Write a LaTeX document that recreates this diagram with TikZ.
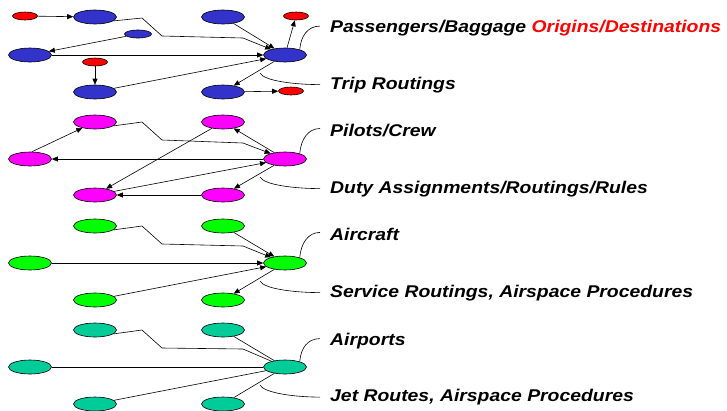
\documentclass[tikz,border=0pt]{standalone}
\usepackage{fontspec}
\setmainfont{Liberation Sans}
\newfontfamily\labfont{Liberation Sans}[FakeStretch=1.14]
\usetikzlibrary{arrows.meta,shapes.geometric}
\definecolor{cblue}{RGB}{51,51,204}
\definecolor{cred}{RGB}{255,0,0}
\definecolor{cmag}{RGB}{255,0,255}
\definecolor{cgreen}{RGB}{0,255,0}
\definecolor{cteal}{RGB}{0,204,153}
\begin{document}
\begin{tikzpicture}[x=1pt,y=-1pt,
  big/.style={ellipse,draw,line width=0.6pt,minimum width=43pt,minimum height=14pt,inner sep=0pt},
  small/.style={ellipse,draw,line width=0.6pt,minimum width=25pt,minimum height=8pt,inner sep=0pt},
  conn/.style={line width=0.6pt},
  arr/.style={conn,-{Triangle[length=6pt,width=5pt]}},
  lab/.style={font=\labfont\bfseries\itshape\fontsize{17}{20}\selectfont,inner xsep=6pt,inner ysep=0pt,anchor=base west}]
\useasboundingbox (0,0) rectangle (727,410);
\fill[white] (0,0) rectangle (727,410);
% ---------- Row 1: passengers
\node[big,fill=cblue] (pA) at (95,17) {};
\node[big,fill=cblue] (pB) at (223,17) {};
\node[big,fill=cblue] (pC) at (30,55) {};
\node[big,fill=cblue] (pH) at (285,55) {};
\node[big,fill=cblue] (pD) at (95,92) {};
\node[big,fill=cblue] (pE) at (223,92) {};
\node[small,fill=cred] (r1) at (25,16) {};
\node[small,fill=cred] (r2) at (296,16) {};
\node[small,fill=cred] (r3) at (95,62) {};
\node[small,fill=cred] (r4) at (291,91) {};
\node[small,fill=cblue,minimum width=27pt] (sb) at (138,34) {};
\draw[arr] (r1) -- (pA);
\draw[arr] (pA.-12) -- (142,18) -- (162,36) -- (243,38) -- (pH);
\draw[arr] (pB) -- (pH);
\draw[arr] (pH) -- (r2);
\draw[arr] (sb) -- (pC);
\draw[arr] (pC) -- (pH);
\draw[arr] (r3) -- (pD);
\draw[arr] (pD) -- (pH);
\draw[arr] (pH) -- (pE);
\draw[arr] (pE) -- (r4);
\node[lab] (t1a) at (324,32.5) {Passengers/Baggage \textcolor{cred}{Origins/Destinations}};
\node[lab] (t1b) at (324,89) {Trip Routings};
\draw[conn] (pH.20) .. controls +(1,-14) and +(-12,0) .. ([shift={(-4,-2)}]t1a.west);
\draw[conn] ([shift={(-25,18)}]pH.center) .. controls +(4,8) and +(-25,0) .. ([shift={(-4,0)}]t1b.west);
% ---------- Row 2: crew
\node[big,fill=cmag] (m1) at (95,122) {};
\node[big,fill=cmag] (m2) at (223,122) {};
\node[big,fill=cmag] (ml) at (30,159) {};
\node[big,fill=cmag] (mH) at (285,159) {};
\node[big,fill=cmag] (m3) at (95,195) {};
\node[big,fill=cmag] (m4) at (223,195) {};
\draw[arr] (ml.75) -- (m1);
\draw[arr] (m1.-12) -- (142,122) -- (162,140) -- (243,143) -- (mH);
\draw[arr] (m2) -- (m3);
\draw[arr] (mH) -- (m2);
\draw[arr] (mH) -- (ml);
\draw[arr] (m3) -- (mH);
\draw[arr] (mH) -- (m4);
\draw[arr] (m4) -- (m3);
\node[lab] (t2a) at (324,136.5) {Pilots/Crew};
\node[lab] (t2b) at (324,193) {Duty Assignments/Routings/Rules};
\draw[conn] (mH.20) .. controls +(1,-14) and +(-12,0) .. ([shift={(-4,-2)}]t2a.west);
\draw[conn] ([shift={(-25,18)}]mH.center) .. controls +(4,8) and +(-25,0) .. ([shift={(-4,0)}]t2b.west);
% ---------- Row 3: aircraft
\node[big,fill=cgreen] (g1) at (95,226) {};
\node[big,fill=cgreen] (g2) at (223,226) {};
\node[big,fill=cgreen] (gl) at (30,263) {};
\node[big,fill=cgreen] (gH) at (285,263) {};
\node[big,fill=cgreen] (g3) at (95,300) {};
\node[big,fill=cgreen] (g4) at (223,300) {};
\draw[arr] (g1.-12) -- (142,226) -- (162,244) -- (243,246) -- (gH);
\draw[arr] (g2) -- (gH);
\draw[arr] (gl) -- (gH);
\draw[arr] (g3) -- (gH);
\draw[arr] (gH) -- (g4);
\node[lab] (t3a) at (324,240.5) {Aircraft};
\node[lab] (t3b) at (324,297) {Service Routings, Airspace Procedures};
\draw[conn] (gH.20) .. controls +(1,-14) and +(-12,0) .. ([shift={(-4,-2)}]t3a.west);
\draw[conn] ([shift={(-25,18)}]gH.center) .. controls +(4,8) and +(-25,0) .. ([shift={(-4,0)}]t3b.west);
% ---------- Row 4: airports
\node[big,fill=cteal] (a1) at (95,330) {};
\node[big,fill=cteal] (a2) at (223,330) {};
\node[big,fill=cteal] (al) at (30,367) {};
\node[big,fill=cteal] (aH) at (285,367) {};
\node[big,fill=cteal] (a3) at (95,404) {};
\node[big,fill=cteal] (a4) at (223,404) {};
\draw[conn] (a1.-12) -- (142,330) -- (162,348) -- (243,349) -- (aH);
\draw[conn] (a2) -- (aH);
\draw[conn] (al) -- (aH);
\draw[conn] (a3) -- (aH);
\draw[conn] (aH) -- (a4);
\node[lab] (t4a) at (324,345) {Airports};
\node[lab] (t4b) at (324,401.5) {Jet Routes, Airspace Procedures};
\draw[conn] (aH.20) .. controls +(1,-14) and +(-12,0) .. ([shift={(-4,-2)}]t4a.west);
\draw[conn] ([shift={(-25,18)}]aH.center) .. controls +(4,8) and +(-25,0) .. ([shift={(-4,0)}]t4b.west);
\end{tikzpicture}
\end{document}
